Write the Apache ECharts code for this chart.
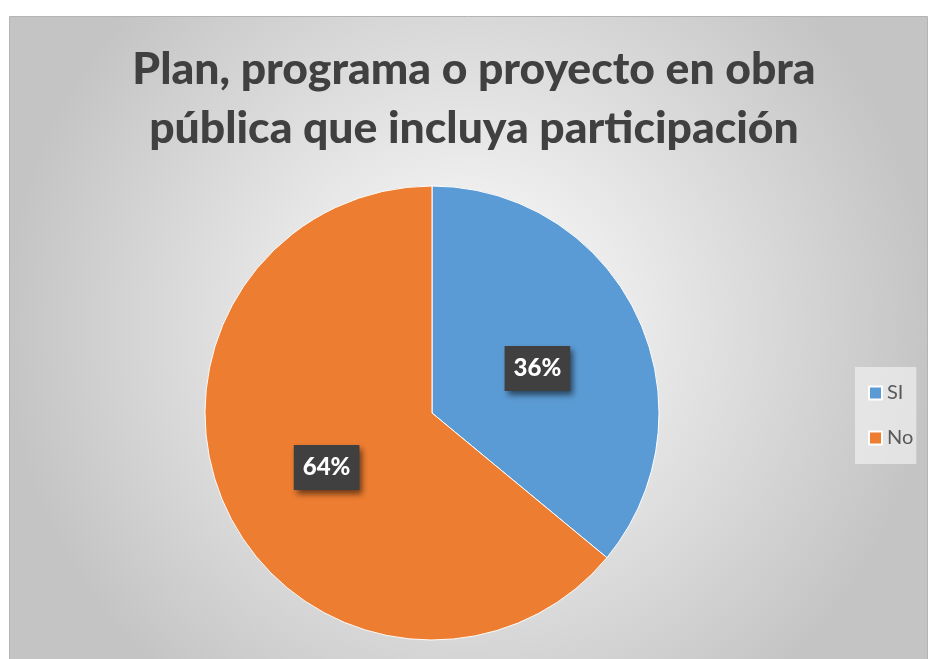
<!DOCTYPE html>
<html><head><meta charset="utf-8">
<script src="https://cdn.jsdelivr.net/npm/echarts@6/dist/echarts.min.js"></script>
<style>html,body{margin:0;padding:0;background:#fff}#c{width:928px;height:659px}</style>
</head><body><div id="c"></div>
<script>
const titleLines = ['Plan, programa o proyecto en obra', 'pública que incluya participación'];
const categories = ['SI', 'No'];
const values = [36, 64];
const colors = ['#5B9BD5', '#ED7D31'];
const FONT = 'Lato';

const chart = echarts.init(document.getElementById('c'), null, {renderer: 'canvas'});
chart.setOption({
  animation: false,
  backgroundColor: '#ffffff',
  graphic: [{
    type: 'rect', z: -10, silent: true,
    shape: {x: 9.5, y: 16.5, width: 918, height: 645},
    style: {
      fill: {type: 'radial', x: 0.5, y: 0.48, r: 0.72,
        colorStops: [{offset: 0, color: '#ffffff'}, {offset: 1, color: '#c4c4c4'}]},
      stroke: '#b4b4b4', lineWidth: 1
    }
  }],
  title: {
    text: titleLines.join('\n'),
    left: 469, top: 35, textAlign: 'center',
    textStyle: {fontFamily: FONT, fontWeight: 900, fontSize: 44.5, color: '#404040', lineHeight: 59}
  },
  legend: {
    orient: 'vertical', left: 855, top: 367,
    data: categories, icon: 'rect', itemWidth: 13, itemHeight: 13, itemGap: 25, itemTextGap: 5,
    padding: [16, 3, 16, 13],
    backgroundColor: 'rgba(240,240,240,0.7)',
    textStyle: {fontFamily: FONT, fontSize: 20, color: '#595959'}
  },
  series: [{
    type: 'pie',
    center: [432, 413], radius: 227,
    startAngle: 90, clockwise: true,
    itemStyle: {borderColor: '#ffffff', borderWidth: 1},
    label: {
      show: true, position: 'inside', offset: [0, 5],
      formatter: p => p.value + '%',
      fontFamily: FONT, fontWeight: 900, fontSize: 24, color: '#ffffff',
      backgroundColor: '#404040', padding: [11, 9, 10, 9],
      shadowColor: 'rgba(0,0,0,0.55)', shadowBlur: 6, shadowOffsetX: 3, shadowOffsetY: 4
    },
    labelLine: {show: false},
    emphasis: {disabled: true},
    data: categories.map((c, i) => ({name: c, value: values[i], itemStyle: {color: colors[i]}}))
  }]
});
</script></body></html>
